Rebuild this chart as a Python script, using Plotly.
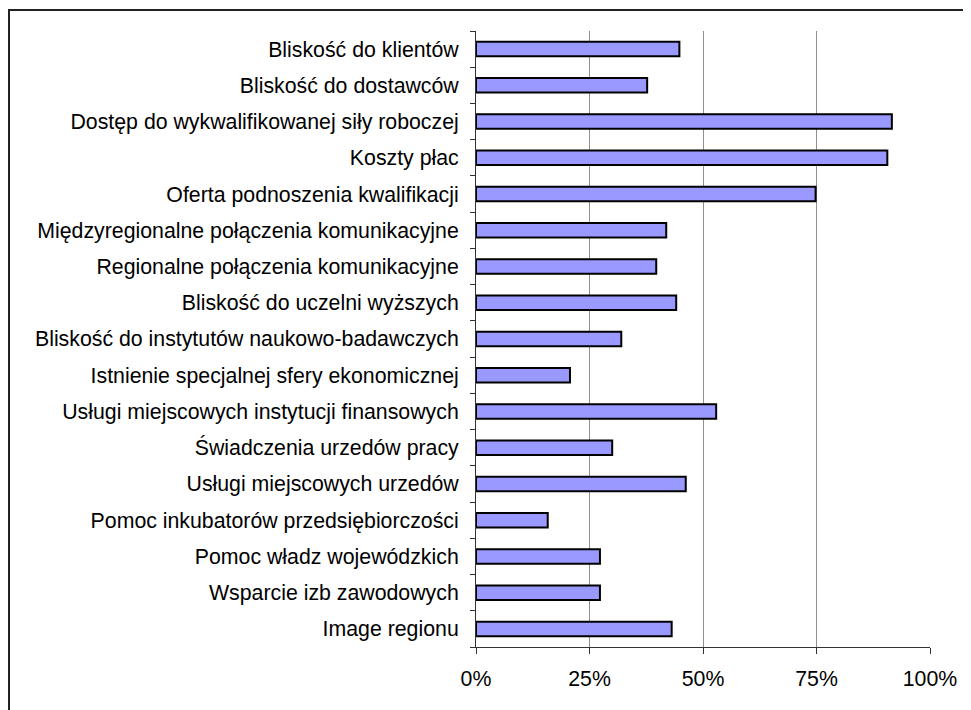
import plotly.graph_objects as go

categories = [
    "Bliskość do klientów",
    "Bliskość do dostawców",
    "Dostęp do wykwalifikowanej siły roboczej",
    "Koszty płac",
    "Oferta podnoszenia kwalifikacji",
    "Międzyregionalne połączenia komunikacyjne",
    "Regionalne połączenia komunikacyjne",
    "Bliskość do uczelni wyższych",
    "Bliskość do instytutów naukowo-badawczych",
    "Istnienie specjalnej sfery ekonomicznej",
    "Usługi miejscowych instytucji finansowych",
    "Świadczenia urzedów pracy",
    "Usługi miejscowych urzedów",
    "Pomoc inkubatorów przedsiębiorczości",
    "Pomoc władz wojewódzkich",
    "Wsparcie izb zawodowych",
    "Image regionu",
]
values = [0.448, 0.377, 0.916, 0.906, 0.748, 0.419, 0.397, 0.441, 0.320,
          0.207, 0.529, 0.300, 0.462, 0.158, 0.273, 0.273, 0.431]
x_ticks = [0, 0.25, 0.5, 0.75, 1.0]
x_tick_labels = ["0%", "25%", "50%", "75%", "100%"]

fig = go.Figure()
fig.add_trace(
    go.Bar(
        x=values,
        y=categories,
        orientation="h",
        width=0.4,
        marker=dict(color="#9999FF", line=dict(color="black", width=2)),
    )
)

# page has an 8px body margin; plot area on the page: x 476-930, y 31-647
fig.update_layout(
    width=963,
    height=702,
    margin=dict(l=468, r=41, t=23, b=63),
    paper_bgcolor="white",
    plot_bgcolor="white",
    showlegend=False,
    font=dict(family="Liberation Sans, Arial, sans-serif", size=21.3, color="black"),
    xaxis=dict(
        range=[0, 1.0],
        tickvals=x_ticks,
        ticktext=x_tick_labels,
        showgrid=True,
        gridcolor="#909090",
        gridwidth=1,
        showline=True,
        linecolor="#333333",
        linewidth=1,
        ticks="outside",
        ticklen=6,
        tickcolor="#333333",
        ticklabelstandoff=6,
        zeroline=False,
        fixedrange=True,
    ),
    yaxis=dict(
        categoryorder="array",
        categoryarray=categories[::-1],
        autorange=False,
        range=[-0.5, len(categories) - 0.5],
        showline=True,
        linecolor="#333333",
        linewidth=1,
        ticks="outside",
        tickson="boundaries",
        ticklen=5,
        tickcolor="#333333",
        ticklabelstandoff=12,
        showgrid=False,
        zeroline=False,
        fixedrange=True,
    ),
    shapes=[
        dict(
            type="rect",
            xref="paper",
            yref="paper",
            x0=(1 - 468) / 454,
            x1=2,
            y0=-1,
            y1=(639 - 2) / 616,
            line=dict(color="#222222", width=2),
            fillcolor="rgba(0,0,0,0)",
            layer="above",
        )
    ],
)

fig.write_html("out.html")
